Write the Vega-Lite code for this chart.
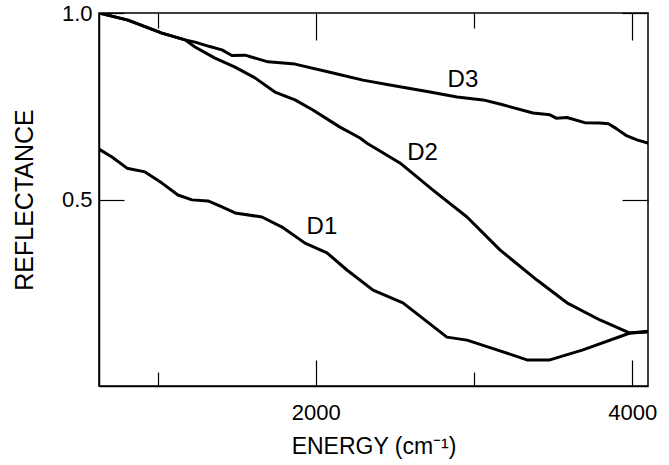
{
  "$schema": "https://vega.github.io/schema/vega-lite/v6.json",
  "width": 549,
  "height": 373,
  "autosize": {"type": "none"},
  "padding": {"left": 99, "top": 13, "right": 21, "bottom": 79},
  "background": "white",
  "config": {
    "view": {"stroke": "black", "strokeWidth": 1.5},
    "axis": {
      "domainColor": "black",
      "domainWidth": 1.5,
      "tickColor": "black",
      "tickWidth": 1.2,
      "labelColor": "black",
      "titleColor": "black",
      "labelFont": "Liberation Sans",
      "titleFont": "Liberation Sans",
      "labelFontSize": 22,
      "titleFontSize": 23,
      "titleFontWeight": "normal",
      "grid": false
    }
  },
  "datasets": {
    "curves": [
      {"series": "D3", "energy": 630, "reflectance": 1.0},
      {"series": "D3", "energy": 813, "reflectance": 0.981},
      {"series": "D3", "energy": 1028, "reflectance": 0.946},
      {"series": "D3", "energy": 1174, "reflectance": 0.928},
      {"series": "D3", "energy": 1237, "reflectance": 0.922},
      {"series": "D3", "energy": 1330, "reflectance": 0.910},
      {"series": "D3", "energy": 1407, "reflectance": 0.901},
      {"series": "D3", "energy": 1470, "reflectance": 0.886},
      {"series": "D3", "energy": 1553, "reflectance": 0.887},
      {"series": "D3", "energy": 1698, "reflectance": 0.869},
      {"series": "D3", "energy": 1869, "reflectance": 0.863},
      {"series": "D3", "energy": 2109, "reflectance": 0.839},
      {"series": "D3", "energy": 2298, "reflectance": 0.820},
      {"series": "D3", "energy": 2469, "reflectance": 0.807},
      {"series": "D3", "energy": 2722, "reflectance": 0.788},
      {"series": "D3", "energy": 2893, "reflectance": 0.775},
      {"series": "D3", "energy": 3057, "reflectance": 0.767},
      {"series": "D3", "energy": 3164, "reflectance": 0.756},
      {"series": "D3", "energy": 3373, "reflectance": 0.732},
      {"series": "D3", "energy": 3480, "reflectance": 0.727},
      {"series": "D3", "energy": 3520, "reflectance": 0.718},
      {"series": "D3", "energy": 3588, "reflectance": 0.720},
      {"series": "D3", "energy": 3700, "reflectance": 0.706},
      {"series": "D3", "energy": 3796, "reflectance": 0.705},
      {"series": "D3", "energy": 3850, "reflectance": 0.703},
      {"series": "D3", "energy": 3900, "reflectance": 0.690},
      {"series": "D3", "energy": 3960, "reflectance": 0.672},
      {"series": "D3", "energy": 4030, "reflectance": 0.660},
      {"series": "D3", "energy": 4100, "reflectance": 0.651},
      {"series": "D2", "energy": 630, "reflectance": 1.0},
      {"series": "D2", "energy": 813, "reflectance": 0.981},
      {"series": "D2", "energy": 1028, "reflectance": 0.946},
      {"series": "D2", "energy": 1174, "reflectance": 0.928},
      {"series": "D2", "energy": 1237, "reflectance": 0.909},
      {"series": "D2", "energy": 1363, "reflectance": 0.879},
      {"series": "D2", "energy": 1490, "reflectance": 0.855},
      {"series": "D2", "energy": 1616, "reflectance": 0.826},
      {"series": "D2", "energy": 1742, "reflectance": 0.788},
      {"series": "D2", "energy": 1869, "reflectance": 0.767},
      {"series": "D2", "energy": 1982, "reflectance": 0.740},
      {"series": "D2", "energy": 2153, "reflectance": 0.694},
      {"series": "D2", "energy": 2280, "reflectance": 0.665},
      {"series": "D2", "energy": 2324, "reflectance": 0.651},
      {"series": "D2", "energy": 2532, "reflectance": 0.598},
      {"series": "D2", "energy": 2741, "reflectance": 0.525},
      {"series": "D2", "energy": 2956, "reflectance": 0.453},
      {"series": "D2", "energy": 3164, "reflectance": 0.365},
      {"series": "D2", "energy": 3398, "reflectance": 0.284},
      {"series": "D2", "energy": 3588, "reflectance": 0.223},
      {"series": "D2", "energy": 3796, "reflectance": 0.177},
      {"series": "D2", "energy": 3986, "reflectance": 0.142},
      {"series": "D2", "energy": 4100, "reflectance": 0.147},
      {"series": "D1", "energy": 630, "reflectance": 0.635},
      {"series": "D1", "energy": 712, "reflectance": 0.614},
      {"series": "D1", "energy": 807, "reflectance": 0.584},
      {"series": "D1", "energy": 921, "reflectance": 0.574},
      {"series": "D1", "energy": 1028, "reflectance": 0.544},
      {"series": "D1", "energy": 1129, "reflectance": 0.512},
      {"series": "D1", "energy": 1218, "reflectance": 0.499},
      {"series": "D1", "energy": 1319, "reflectance": 0.496},
      {"series": "D1", "energy": 1407, "reflectance": 0.480},
      {"series": "D1", "energy": 1490, "reflectance": 0.464},
      {"series": "D1", "energy": 1660, "reflectance": 0.453},
      {"series": "D1", "energy": 1787, "reflectance": 0.426},
      {"series": "D1", "energy": 1932, "reflectance": 0.383},
      {"series": "D1", "energy": 2071, "reflectance": 0.357},
      {"series": "D1", "energy": 2197, "reflectance": 0.311},
      {"series": "D1", "energy": 2362, "reflectance": 0.257},
      {"series": "D1", "energy": 2551, "reflectance": 0.223},
      {"series": "D1", "energy": 2829, "reflectance": 0.131},
      {"series": "D1", "energy": 2956, "reflectance": 0.123},
      {"series": "D1", "energy": 3145, "reflectance": 0.097},
      {"series": "D1", "energy": 3335, "reflectance": 0.070},
      {"series": "D1", "energy": 3480, "reflectance": 0.070},
      {"series": "D1", "energy": 3689, "reflectance": 0.097},
      {"series": "D1", "energy": 3986, "reflectance": 0.142},
      {"series": "D1", "energy": 4100, "reflectance": 0.145}
    ],
    "labels": [
      {"series": "D3", "energy": 2930, "reflectance": 0.820},
      {"series": "D2", "energy": 2675, "reflectance": 0.625},
      {"series": "D1", "energy": 2039, "reflectance": 0.426}
    ]
  },
  "resolve": {"axis": {"x": "independent", "y": "independent"}},
  "layer": [
    {
      "data": {"name": "curves"},
      "mark": {"type": "line", "color": "black", "strokeWidth": 3, "strokeJoin": "round", "strokeCap": "round", "clip": true},
      "encoding": {
        "x": {
          "field": "energy", "type": "quantitative",
          "scale": {"domain": [630, 4100], "nice": false, "zero": false},
          "axis": {
            "orient": "bottom",
            "title": "ENERGY (cm⁻¹)",
            "values": [1000, 2000, 3000, 4000],
            "format": "d",
            "labelExpr": "datum.value % 2000 === 0 ? datum.label : ''",
            "tickSize": {"condition": {"test": "datum.value % 2000 === 0", "value": -26}, "value": -14},
            "labelPadding": 42,
            "titlePadding": 12
          }
        },
        "y": {
          "field": "reflectance", "type": "quantitative",
          "scale": {"domain": [0, 1.0], "nice": false},
          "axis": {
            "orient": "left",
            "title": "REFLECTANCE",
            "titleFontSize": 25,
            "values": [0.5, 1.0],
            "format": ".1f",
            "tickSize": -25,
            "labelPadding": 32,
            "titlePadding": 24
          }
        },
        "detail": {"field": "series"},
        "order": {"field": "energy", "type": "quantitative"}
      }
    },
    {
      "data": {"name": "labels"},
      "mark": {"type": "text", "font": "Liberation Sans", "fontSize": 24, "color": "black", "align": "center", "baseline": "middle"},
      "encoding": {
        "x": {
          "field": "energy", "type": "quantitative",
          "axis": {
            "orient": "top",
            "title": null,
            "labels": false,
            "domain": false,
            "values": [1000, 2000, 3000, 4000],
            "tickSize": {"condition": {"test": "datum.value % 2000 === 0", "value": -27}, "value": -15}
          }
        },
        "y": {
          "field": "reflectance", "type": "quantitative",
          "axis": {
            "orient": "right",
            "title": null,
            "labels": false,
            "domain": false,
            "values": [0.5, 1.0],
            "tickSize": -26
          }
        },
        "text": {"field": "series"}
      }
    }
  ]
}
